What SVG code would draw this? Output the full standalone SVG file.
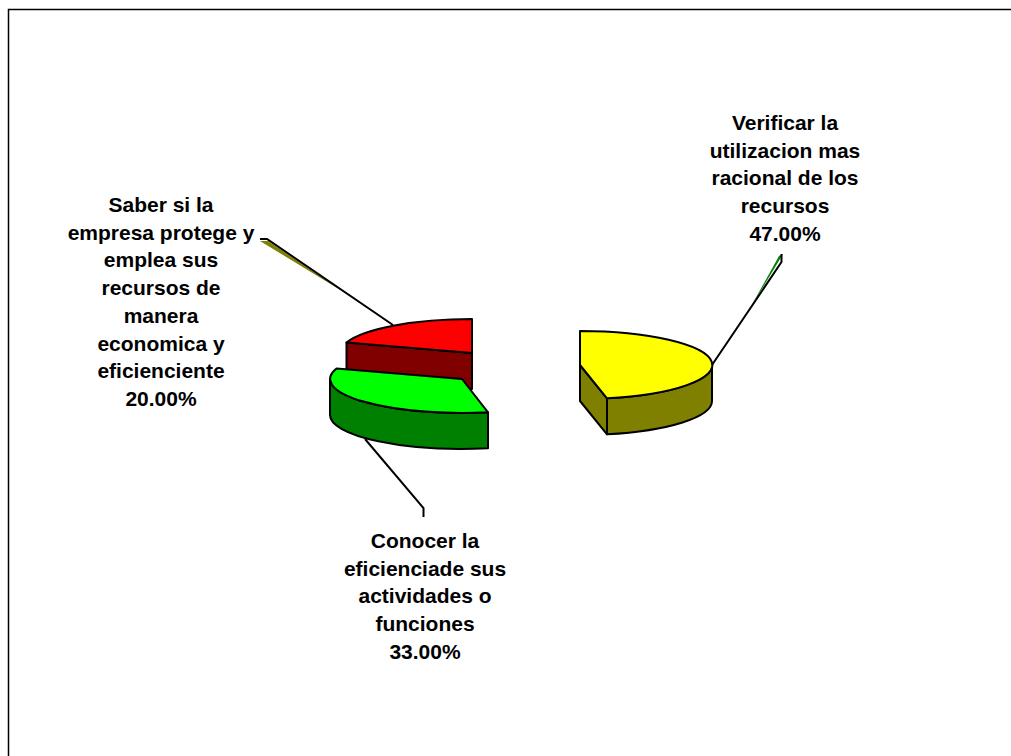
<svg xmlns="http://www.w3.org/2000/svg" width="1011" height="756" viewBox="0 0 1011 756">
<style>
.lbl{font-family:"Liberation Sans",Arial,sans-serif;font-weight:bold;font-size:21px;fill:#000;text-anchor:middle}
.edge{stroke:#000;stroke-width:2;stroke-linejoin:round}
.lead{fill:none;stroke:#000;stroke-width:2;stroke-linejoin:miter}
</style>
<rect x="8.5" y="9.5" width="1010" height="760" fill="#fff" stroke="#000" stroke-width="1.5"/>
<g id="slice-red">
<path class="edge" fill="#800000" d="M472,353 L346.5,342.5 L346.5,378.5 L472,389 Z"/>
<path class="edge" fill="#FF0000" d="M472,353 L346.5,342.5 A132,34 0 0,1 472,319 Z"/>
</g>
<g id="slice-green">
<path class="edge" fill="#008000" d="M488,412.3 A132,34 0 0,1 330,379 L330,415 A132,34 0 0,0 488,448.3 Z"/>
<path class="edge" fill="#00FF00" d="M462,379 L488,412.3 A132,34 0 0,1 336.5,368.5 Z"/>
</g>
<g id="slice-yellow">
<path class="edge" fill="#808000" d="M580,365 L607,398.3 L607,434.3 L580,401 Z"/>
<path class="edge" fill="#808000" d="M607,398.3 A132,34 0 0,0 712,365 L712,401 A132,34 0 0,1 607,434.3 Z"/>
<path class="edge" fill="#FFFF00" d="M580,365 L580,331 A132,34 0 0,1 607,398.3 Z"/>
</g>
<g id="connectors">
<polygon points="260,241 268,241 342,291" fill="#808000"/>
<polyline class="lead" points="260,239 267,239 393,325"/>
<polygon points="779,256 783,254 748,312" fill="#008000"/>
<polyline class="lead" points="712,365 781.5,262 781.5,254"/>
<polyline class="lead" points="365,439 423.5,508 423.5,517"/>
</g>
<g id="label-red">
<text class="lbl" x="161" y="212">Saber si la</text>
<text class="lbl" x="161" y="239.7">empresa protege y</text>
<text class="lbl" x="161" y="267.4">emplea sus</text>
<text class="lbl" x="161" y="295.1">recursos de</text>
<text class="lbl" x="161" y="322.8">manera</text>
<text class="lbl" x="161" y="350.5">economica y</text>
<text class="lbl" x="161" y="378.2">eficienciente</text>
<text class="lbl" x="161" y="405.9">20.00%</text>
</g>
<g id="label-yellow">
<text class="lbl" x="785" y="130">Verificar la</text>
<text class="lbl" x="785" y="157.7">utilizacion mas</text>
<text class="lbl" x="785" y="185.4">racional de los</text>
<text class="lbl" x="785" y="213.1">recursos</text>
<text class="lbl" x="785" y="240.8">47.00%</text>
</g>
<g id="label-green">
<text class="lbl" x="425" y="548">Conocer la</text>
<text class="lbl" x="425" y="575.7">eficienciade sus</text>
<text class="lbl" x="425" y="603.4">actividades o</text>
<text class="lbl" x="425" y="631.1">funciones</text>
<text class="lbl" x="425" y="658.8">33.00%</text>
</g>
</svg>
